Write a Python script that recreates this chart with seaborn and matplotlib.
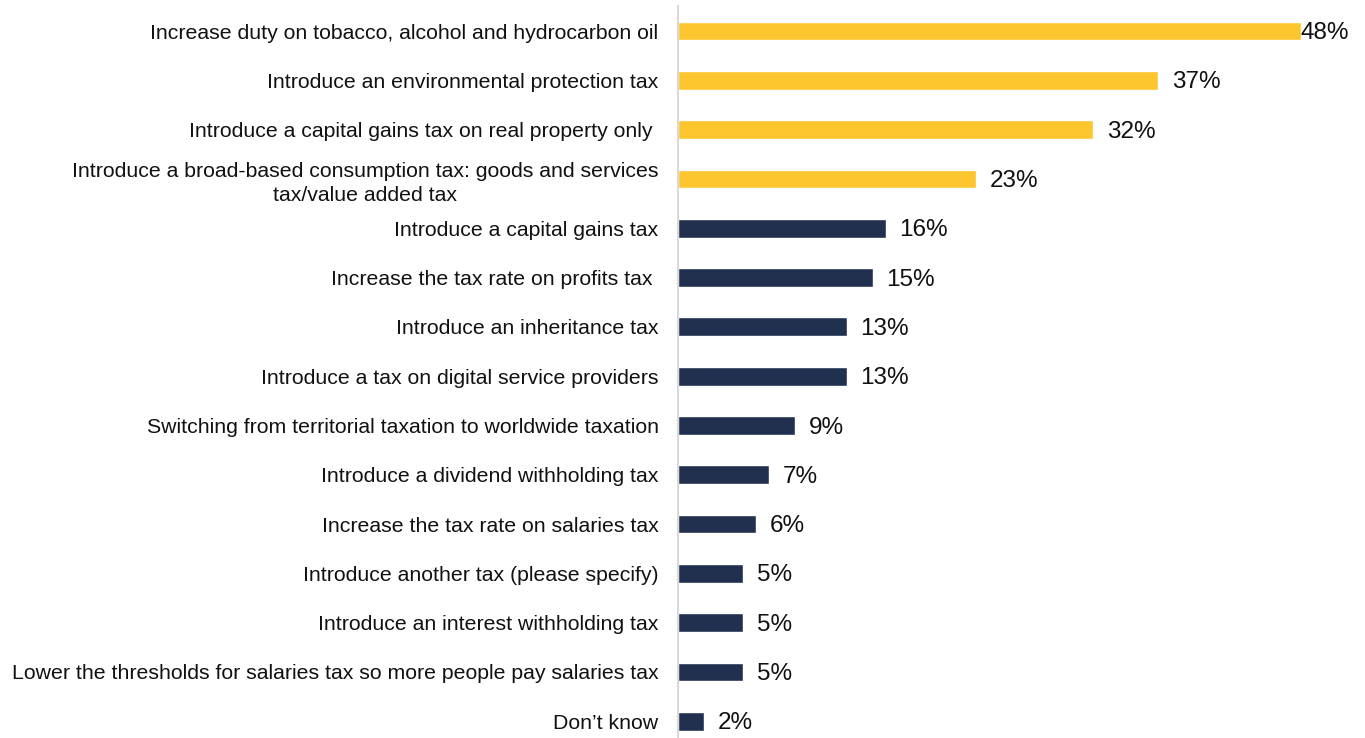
import matplotlib
matplotlib.use("Agg")
import matplotlib.pyplot as plt
import seaborn as sns
import pandas as pd

options = [
    "Increase duty on tobacco, alcohol and hydrocarbon oil",
    "Introduce an environmental protection tax",
    "Introduce a capital gains tax on real property only ",
    "Introduce a broad-based consumption tax: goods and services\ntax/value added tax",
    "Introduce a capital gains tax",
    "Increase the tax rate on profits tax ",
    "Introduce an inheritance tax",
    "Introduce a tax on digital service providers",
    "Switching from territorial taxation to worldwide taxation",
    "Introduce a dividend withholding tax",
    "Increase the tax rate on salaries tax",
    "Introduce another tax (please specify)",
    "Introduce an interest withholding tax",
    "Lower the thresholds for salaries tax so more people pay salaries tax",
    "Don\u2019t know",
]
shares = [48, 37, 32, 23, 16, 15, 13, 13, 9, 7, 6, 5, 5, 5, 2]
groups = ["top"] * 4 + ["rest"] * 11

palette = {"top": "#FDC62F", "rest": "#22304F"}

df = pd.DataFrame({"option": options, "share": shares, "group": groups})

sns.set_style("white")
plt.rcParams["font.family"] = "sans-serif"
plt.rcParams["font.sans-serif"] = ["Liberation Sans", "DejaVu Sans"]

fig = plt.figure(figsize=(13.65, 7.38), dpi=100)
ax = fig.add_axes([0.4967, 0.0, 0.496, 0.9913])

sns.barplot(
    data=df,
    x="share",
    y="option",
    hue="group",
    palette=palette,
    saturation=1,
    dodge=False,
    width=0.38,
    legend=False,
    orient="h",
    ax=ax,
)

ax.set_xlim(0, 52.2)
ax.set_ylim(14.34, -0.5)
ax.set_xlabel("")
ax.set_ylabel("")
ax.set_xticks([])

for side in ["top", "right", "bottom"]:
    ax.spines[side].set_visible(False)
ax.spines["left"].set_color("#D9D9D9")
ax.spines["left"].set_linewidth(1.5)

ax.tick_params(axis="y", length=0, pad=14, labelsize=15.3, labelcolor="#111111")
for lbl in ax.get_yticklabels():
    lbl.set_multialignment("center")
    lbl.set_linespacing(1.35)

top_val = max(shares)
for i, v in enumerate(shares):
    off = 0 if v == top_val else 10
    ax.annotate(
        f"{v}%",
        xy=(v, i),
        xytext=(off, -1.5),
        textcoords="offset points",
        ha="left",
        va="center",
        fontsize=17.5,
        color="#111111",
    )

fig.savefig("out.png", dpi=100)
